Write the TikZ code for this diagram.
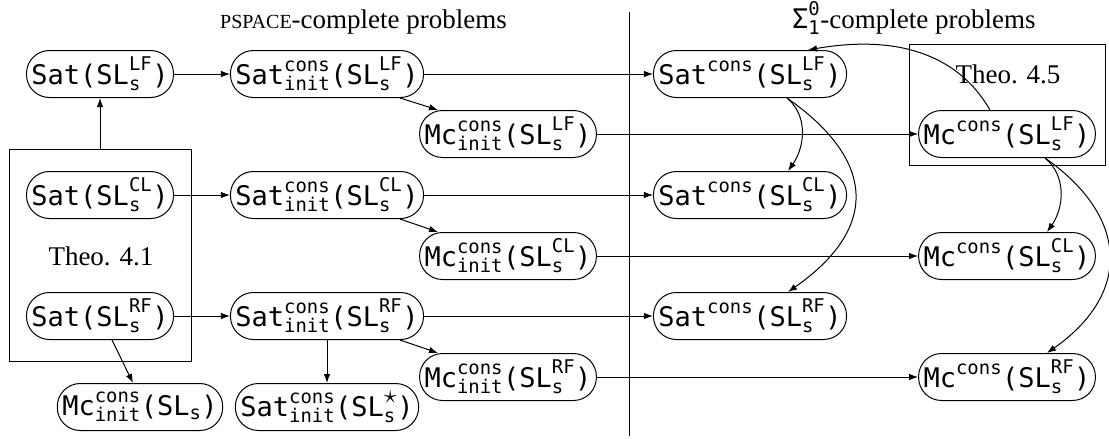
\RequirePackage{fix-cm}
\documentclass[tikz,border=0pt]{standalone}
\usepackage{amsmath}
\usepackage{graphicx}
\usepackage{fontspec}
\setmainfont{Liberation Serif}
\setmonofont{DejaVu Sans Mono}
\usetikzlibrary{arrows.meta}

% monospaced problem names with scripts
\newcommand\tw[1]{\texttt{#1}}
\newcommand\plain[2]{$\tw{Sat(SL}^{\tw{#1}}_{\tw{#2}}\tw{)}$}
\newcommand\initp[3]{$\tw{#1}^{\tw{cons}}_{\tw{init}}\tw{(SL}^{#2}_{\tw{#3}}\tw{)}$}
\newcommand\consp[2]{$\tw{#1}^{\tw{cons}}\tw{(SL}^{\tw{#2}}_{\tw{s}}\tw{)}$}
\newcommand\bigstar{\scalebox{1.4}{$\scriptstyle\star$}}

\tikzset{
  prob/.style={draw, rounded corners=23pt, minimum height=47pt,
    inner xsep=5pt, inner ysep=0pt, line width=1pt,
    font=\fontsize{27}{32}\selectfont},
  frame/.style={draw, line width=1pt, inner sep=0pt},
  lbl/.style={font=\fontsize{27}{32}\selectfont, inner sep=0pt},
  arr/.style={-{Latex[length=9pt,width=6.5pt]}, line width=1pt},
}

\begin{document}
\begin{tikzpicture}[x=1pt,y=-1pt]
\useasboundingbox (0,0) rectangle (1109,439);

% theorem frames
\node[frame, minimum width=182pt, minimum height=212pt] (th41) at (100,255) {};
\node[frame, minimum width=196pt, minimum height=121pt] (th45) at (1007,104.5) {};
\node[lbl, anchor=base] (th41lbl) at (101,265) {Theo. 4.1};
\node[lbl, anchor=base] (th45lbl) at (1008,83) {Theo. 4.5};

% headings
\node[lbl, anchor=base west] (hleft) at (220,28)
  {{\fontsize{20}{20}\selectfont PSPACE}-complete problems};
\node[lbl, anchor=base west] (hright) at (792,28)
  {$\tw{\char"03A3}^{\tw{0}}_{\tw{1}}$-complete problems};

% separator
\coordinate (divtop) at (629,12);
\coordinate (divbot) at (629,436);
\draw[line width=1pt] (divtop) -- (divbot);

% first column
\node[prob] (satLF) at (100,74)  {\plain{LF}{s}};
\node[prob] (satCL) at (100,195) {\plain{CL}{s}};
\node[prob] (satRF) at (100,316) {\plain{RF}{s}};
\node[prob] (mcinS) at (140,407) {$\tw{Mc}^{\tw{cons}}_{\tw{init}}\tw{(SL}_{\tw{s}}\tw{)}$};

% second column
\node[prob] (sinLF) at (327,74)  {\initp{Sat}{\tw{LF}}{s}};
\node[prob] (sinCL) at (327,195) {\initp{Sat}{\tw{CL}}{s}};
\node[prob] (sinRF) at (327,316) {\initp{Sat}{\tw{RF}}{s}};
\node[prob] (sinStar) at (327,407) {\initp{Sat}{\bigstar}{s}};

% third column
\node[prob] (mcinLF) at (508,134) {\initp{Mc}{\tw{LF}}{s}};
\node[prob] (mcinCL) at (508,256) {\initp{Mc}{\tw{CL}}{s}};
\node[prob] (mcinRF) at (508,377) {\initp{Mc}{\tw{RF}}{s}};

% undecidable side
\node[prob] (scLF) at (750,74)  {\consp{Sat}{LF}};
\node[prob] (scCL) at (750,195) {\consp{Sat}{CL}};
\node[prob] (scRF) at (750,316) {\consp{Sat}{RF}};
\node[prob] (mcLF) at (1007,134) {\consp{Mc}{LF}};
\node[prob] (mcCL) at (1007,256) {\consp{Mc}{CL}};
\node[prob] (mcRF) at (1007,377) {\consp{Mc}{RF}};

% reductions
\draw[arr] (th41.north) -- (satLF.south);
\draw[arr] (satLF) -- (sinLF);
\draw[arr] (satCL) -- (sinCL);
\draw[arr] (satRF) -- (sinRF);
\draw[arr] ([xshift=12pt]satRF.south) -- ([xshift=-7pt]mcinS.north);
\draw[arr] (sinRF.south) -- (sinStar.north);

\draw[arr] (sinLF) -- (scLF);
\draw[arr] (sinCL) -- (scCL);
\draw[arr] (sinRF) -- (scRF);
\draw[arr] ([xshift=73pt]sinLF.south) -- ([xshift=-70pt]mcinLF.north);
\draw[arr] ([xshift=73pt]sinCL.south) -- ([xshift=-70pt]mcinCL.north);
\draw[arr] ([xshift=73pt]sinRF.south) -- ([xshift=-70pt]mcinRF.north);

\draw[arr] (mcinLF) -- (mcLF);
\draw[arr] (mcinCL) -- (mcCL);
\draw[arr] (mcinRF) -- (mcRF);

\draw[arr] ([xshift=-17pt]mcLF.north) to[out=120,in=10] ([xshift=58pt]scLF.north);
\draw[arr] ([xshift=37pt]scLF.south) to[out=-40,in=55] ([xshift=38pt]scCL.north);
\draw[arr] ([xshift=37pt]scLF.south) to[out=-35,in=35,looseness=1.45] ([xshift=38pt]scRF.north);
\draw[arr] ([xshift=38pt]mcLF.south) to[out=-40,in=55] ([xshift=40pt]mcCL.north);
\draw[arr] ([xshift=38pt]mcLF.south) to[out=-35,in=35,looseness=1.35] ([xshift=40pt]mcRF.north);
\end{tikzpicture}
\end{document}
